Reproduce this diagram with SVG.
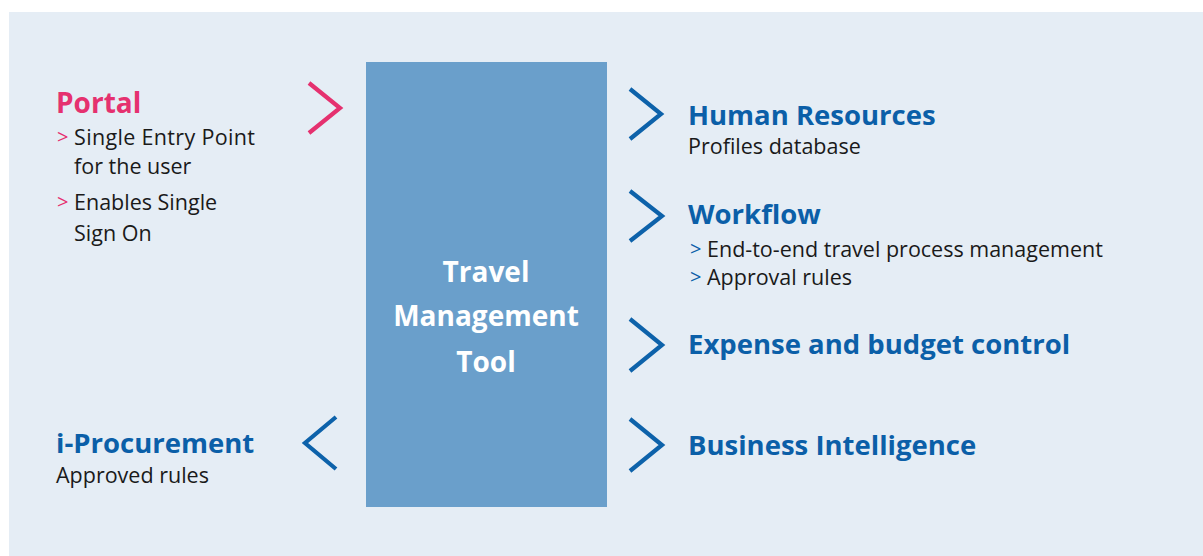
<svg xmlns="http://www.w3.org/2000/svg" width="1203" height="556" viewBox="0 0 1203 556">
<style>
.t{font-family:"Open Sans","Noto Sans","Liberation Sans",sans-serif}
.h{font-weight:bold;font-size:27.5px;fill:#0b5fa8}
.b{font-size:21.5px;fill:#1a1a1a}
.c{fill:none;stroke-width:4.2;stroke-linecap:butt;stroke-linejoin:miter}
.cb{stroke:#0d62aa}
.cp{stroke:#e5316f}
.bp{fill:#e5316f}
.bb{fill:#0b5fa8}
</style>
<rect x="9" y="12" width="1194" height="544" fill="#e5edf5"/>
<g id="tmt">
<rect x="366" y="62" width="241" height="445" fill="#6a9fcb"/>
<text class="t" font-weight="bold" font-size="28" fill="#ffffff" text-anchor="middle"><tspan x="486" y="282">Travel</tspan><tspan x="486" y="326">Management</tspan><tspan x="486" y="372">Tool</tspan></text>
</g>
<g id="portal">
<text class="t" x="56" y="113" font-weight="bold" font-size="28" fill="#e5316f">Portal</text>
<text class="t b"><tspan x="57" y="144" class="bp" font-size="20">&gt;</tspan><tspan x="74" y="145" textLength="181">Single Entry Point</tspan><tspan x="74" y="174">for the user</tspan><tspan x="57" y="209" class="bp" font-size="20">&gt;</tspan><tspan x="74" y="210">Enables Single</tspan><tspan x="74" y="241">Sign On</tspan></text>
</g>
<g id="iprocurement">
<text class="t h" x="56" y="453">i-Procurement</text>
<text class="t b" x="56" y="483">Approved rules</text>
</g>
<g id="hr">
<text class="t h" x="688" y="125">Human Resources</text>
<text class="t b" x="688" y="154">Profiles database</text>
</g>
<g id="workflow">
<text class="t h" x="688" y="224">Workflow</text>
<text class="t b"><tspan x="690" y="256" class="bb" font-size="20">&gt;</tspan><tspan x="707" y="257">End-to-end travel process management</tspan><tspan x="690" y="284" class="bb" font-size="20">&gt;</tspan><tspan x="707" y="285">Approval rules</tspan></text>
</g>
<g id="expense">
<text class="t h" x="688" y="354">Expense and budget control</text>
</g>
<g id="bi">
<text class="t h" x="688" y="455">Business Intelligence</text>
</g>
<g id="connectors">
<polyline class="c cp" points="309,83 340,108 309,133"/>
<polyline class="c cb" points="336,417 305,443 336,469"/>
<polyline class="c cb" points="630,89 661,114 630,139"/>
<polyline class="c cb" points="630,191 662,216 630,241"/>
<polyline class="c cb" points="630,319 662,345 630,371"/>
<polyline class="c cb" points="630,419 662,445 630,471"/>
</g>
</svg>
